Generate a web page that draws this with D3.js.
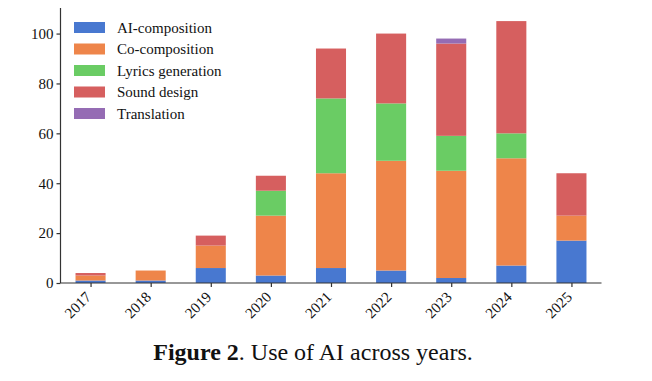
<!DOCTYPE html>
<html>
<head>
<meta charset="utf-8">
<script src="https://cdn.jsdelivr.net/npm/d3@7"></script>
<style>
  body { margin: 0; background: #fff; }
  text { font-family: "Liberation Serif", "Times New Roman", serif; }
</style>
</head>
<body>
<svg id="svg"></svg>
<script>
const WIDTH = 652, HEIGHT = 381;
const years = ['2017','2018','2019','2020','2021','2022','2023','2024','2025'];
const seriesNames = ['AI-composition','Co-composition','Lyrics generation','Sound design','Translation'];
const colors = ['#4878d0','#ee854a','#6acc64','#d65f5f','#956cb4'];
const aiComposition    = [1, 1, 6, 3, 6, 5, 2, 7, 17];
const coComposition    = [2, 4, 9, 24, 38, 44, 43, 43, 10];
const lyricsGeneration = [0, 0, 0, 10, 30, 23, 14, 10, 0];
const soundDesign      = [1, 0, 4, 6, 20, 28, 37, 45, 17];
const translation      = [0, 0, 0, 0, 0, 0, 2, 0, 0];
const yTicks = [0, 20, 40, 60, 80, 100];

const rows = years.map((y, i) => ({
    year: y,
    'AI-composition': aiComposition[i],
    'Co-composition': coComposition[i],
    'Lyrics generation': lyricsGeneration[i],
    'Sound design': soundDesign[i],
    'Translation': translation[i]
}));
const stack = d3.stack().keys(seriesNames)(rows);

const mLeft = 60.5, mRight = 601.5, mTop = 8, mBottom = 283;
const svg = d3.select('#svg').attr('width', WIDTH).attr('height', HEIGHT);

const x = d3.scaleLinear().domain([-0.5, years.length - 0.5]).range([mLeft, mRight]);
const yMax = d3.max(stack[stack.length - 1], d => d[1]) * 1.05;
const y = d3.scaleLinear().domain([0, yMax]).range([mBottom, mTop]);
const barW = x(0.5) - x(0);

svg.append('g').selectAll('g').data(stack).join('g')
    .attr('fill', (d, i) => colors[i])
    .selectAll('rect').data(d => d).join('rect')
    .attr('x', (d, i) => x(i) - barW / 2)
    .attr('width', barW)
    .attr('y', d => y(d[1]))
    .attr('height', d => y(d[0]) - y(d[1]));

// axes
const yAxis = svg.append('g').attr('transform', 'translate(' + mLeft + ',0)')
    .call(d3.axisLeft(y).tickValues(yTicks).tickSize(4).tickPadding(3));
yAxis.select('.domain').attr('d', 'M0,' + y(yMax) + 'V' + mBottom);
yAxis.selectAll('text').attr('font-size', 15).attr('fill', '#111');

const xAxis = svg.append('g').attr('transform', 'translate(0,' + mBottom + ')')
    .call(d3.axisBottom(x).tickValues(d3.range(years.length)).tickFormat(i => years[i]).tickSize(4));
xAxis.select('.domain').attr('d', 'M' + mLeft + ',0H' + mRight);
xAxis.selectAll('text')
    .attr('font-size', 15).attr('fill', '#111')
    .attr('text-anchor', 'end').attr('x', 0).attr('y', 0).attr('dy', 0)
    .attr('transform', 'translate(1,15) rotate(-45)');
svg.selectAll('.domain, .tick line').attr('stroke', '#333').attr('stroke-width', 1.2);
svg.selectAll('g').attr('font-family', null);

// legend
const legend = svg.append('g').attr('transform', 'translate(74,22)');
const item = legend.selectAll('g').data(seriesNames).join('g')
    .attr('transform', (d, i) => 'translate(0,' + (i * 21.5) + ')');
item.append('rect').attr('width', 31).attr('height', 11).attr('fill', (d, i) => colors[i]);
item.append('text').attr('x', 43).attr('y', 5.5).attr('dy', '0.35em')
    .attr('font-size', 15).attr('fill', '#111').text(d => d);

// caption
const cap = svg.append('text').attr('x', 313).attr('y', 360).attr('text-anchor', 'middle')
    .attr('font-size', 24).attr('fill', '#111');
cap.append('tspan').attr('font-weight', 'bold').text('Figure 2');
cap.append('tspan').text('. Use of AI across years.');
</script>
</body>
</html>
